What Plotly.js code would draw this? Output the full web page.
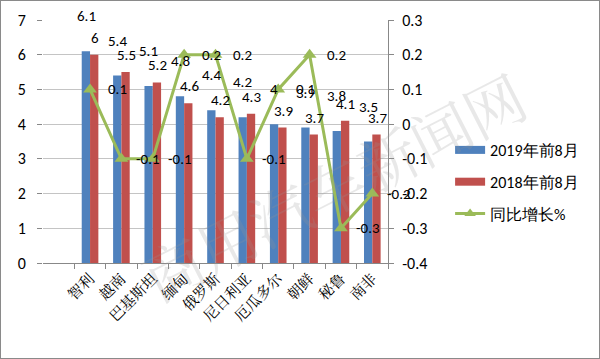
<!DOCTYPE html>
<html>
<head>
<meta charset="utf-8">
<script src="https://cdn.plot.ly/plotly-3.0.1.min.js"></script>
<style>
html,body{margin:0;padding:0;background:#fff;}
#wrap{position:relative;width:600px;height:359px;}
#chart{width:600px;height:359px;}
#frame{position:absolute;left:0;top:0;width:600px;height:359px;box-sizing:border-box;border:1px solid #8a8a8a;pointer-events:none;}
</style>
</head>
<body>
<div id="wrap"><div id="chart"></div><div id="frame"></div></div>
<script>
// ---- data ----
const categories = ['智利','越南','巴基斯坦','缅甸','俄罗斯','尼日利亚','厄瓜多尔','朝鲜','秘鲁','南非'];
const sales2019 = [6.1, 5.4, 5.1, 4.8, 4.4, 4.2, 4, 3.9, 3.8, 3.5];
const sales2018 = [6, 5.5, 5.2, 4.6, 4.2, 4.3, 3.9, 3.7, 4.1, 3.7];
const growth = [0.1, -0.1, -0.1, 0.2, 0.2, -0.1, 0.1, 0.2, -0.3, -0.2];
const leftTicks = [0,1,2,3,4,5,6,7];
const rightTickVals = [0.3,0.2,0.1,0,-0.1,-0.2,-0.3,-0.4];
const rightTickText = ['0.3','0.2','0.1','0','-0.1','-0.2','-0.3','-0.4'];
const seriesNames = ['2019年前8月','2018年前8月','同比增长%'];

const BLUE = '#4f81bd', RED = '#c0504d', GREEN = '#9bbb59';
const numFont = "Calibri, Carlito, Lato, 'Liberation Sans', sans-serif";
const cjkFont = "SimSun, 'Noto Serif CJK SC', 'Noto Sans CJK SC', serif";

const traces = [
  {type:'bar', x:categories, y:sales2019, name:seriesNames[0], marker:{color:BLUE}, showlegend:false, hoverinfo:'skip'},
  {type:'bar', x:categories, y:sales2018, name:seriesNames[1], marker:{color:RED}, showlegend:false, hoverinfo:'skip'},
  {type:'scatter', mode:'lines+markers', x:categories, y:growth, yaxis:'y2', name:seriesNames[2],
   line:{color:GREEN, width:3}, marker:{symbol:'triangle-up', size:12, color:GREEN},
   showlegend:false, hoverinfo:'skip'},
  // legend entries
  {type:'scatter', mode:'lines', x:[null], y:[null], name:seriesNames[0], line:{color:BLUE, width:8}, legendgroup:'a'},
  {type:'scatter', mode:'lines', x:[null], y:[null], name:seriesNames[1], line:{color:RED, width:8}, legendgroup:'b'},
  {type:'scatter', mode:'lines+markers', x:[null], y:[null], name:seriesNames[2], yaxis:'y2', line:{color:GREEN, width:3}, marker:{symbol:'triangle-up', size:10, color:GREEN}, legendgroup:'c'}
];

const annotations = [];
// watermark (drawn first, behind labels)
annotations.push({xref:'paper', yref:'paper', x:0.84, y:0.32, xanchor:'center', yanchor:'middle',
  text:'商用汽车新闻网', showarrow:false, textangle:-27,
  font:{family:cjkFont, size:60, color:'rgba(150,150,150,0.22)'}});
categories.forEach((c,i)=>{
  annotations.push({x:c, y:sales2019[i], xref:'x', yref:'y', text:String(sales2019[i]), showarrow:false,
    xshift:-4, yshift:35, yanchor:'middle', font:{family:numFont, size:15, color:'#000'}});
  annotations.push({x:c, y:sales2018[i], xref:'x', yref:'y', text:String(sales2018[i]), showarrow:false,
    xshift:5, yshift:17, yanchor:'middle', font:{family:numFont, size:15, color:'#000'}});
  annotations.push({x:c, y:growth[i], xref:'x', yref:'y2', text:String(growth[i]), showarrow:false,
    xshift:27, yanchor:'middle', font:{family:numFont, size:15, color:'#000'}});
});

const layout = {
  width:600, height:359,
  margin:{l:43, r:212, t:20, b:96},
  paper_bgcolor:'#fff', plot_bgcolor:'#fff',
  barmode:'group', bargap:0.47, bargroupgap:0,
  showlegend:true,
  legend:{x:1.18, xanchor:'left', y:0.535, yanchor:'top', font:{family:numFont, size:16, color:'#000'},
          tracegroupgap:8, bgcolor:'rgba(0,0,0,0)'},
  xaxis:{type:'category', range:[-1.5, 9.5], tickson:'boundaries', ticks:'outside', ticklen:5,
         tickcolor:'#888', showgrid:false, showline:true, linecolor:'#888', linewidth:1,
         tickangle:-45, tickfont:{family:cjkFont, size:15, color:'#000'}, zeroline:false},
  yaxis:{range:[0,7], tickvals:leftTicks, ticks:'outside', ticklen:5, tickcolor:'#888', ticklabelstandoff:8,
         showgrid:true, gridcolor:'#c4c4c4', gridwidth:1, zeroline:false, showline:false,
         tickfont:{family:numFont, size:16, color:'#000'}},
  yaxis2:{overlaying:'y', side:'right', range:[-0.4,0.3], tickvals:rightTickVals, ticktext:rightTickText,
          ticks:'outside', ticklen:5, tickcolor:'#888', ticklabelstandoff:5, showline:true, linecolor:'#888', linewidth:1,
          showgrid:false, zeroline:false, tickfont:{family:numFont, size:16, color:'#000'}},
  annotations:annotations
};

Plotly.newPlot('chart', traces, layout, {staticPlot:true, displayModeBar:false});
</script>
</body>
</html>
